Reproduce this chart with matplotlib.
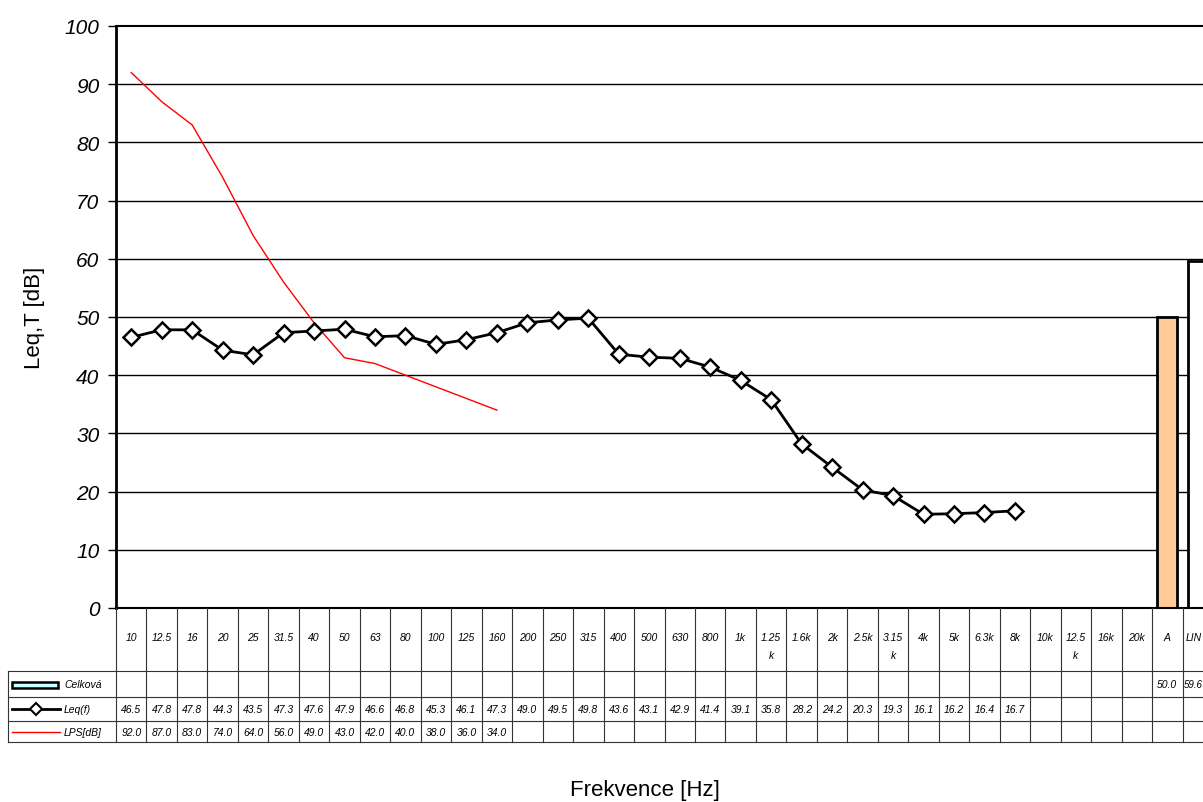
import numpy as np
import matplotlib
matplotlib.use("Agg")
import matplotlib.pyplot as plt
from matplotlib.lines import Line2D
from matplotlib.patches import Rectangle
from matplotlib.transforms import blended_transform_factory

plt.rcParams['font.family'] = ['Liberation Sans', 'DejaVu Sans']

# Frequency bands + overall columns
bands = ["10", "12.5", "16", "20", "25", "31.5", "40", "50", "63", "80", "100", "125",
         "160", "200", "250", "315", "400", "500", "630", "800", "1k", "1.25\nk", "1.6k",
         "2k", "2.5k", "3.15\nk", "4k", "5k", "6.3k", "8k", "10k", "12.5\nk", "16k", "20k",
         "A", "LIN"]

# Leq(f) per band (10 Hz .. 8 kHz)
leq = [46.5, 47.8, 47.8, 44.3, 43.5, 47.3, 47.6, 47.9, 46.6, 46.8, 45.3, 46.1, 47.3,
       49.0, 49.5, 49.8, 43.6, 43.1, 42.9, 41.4, 39.1, 35.8, 28.2, 24.2, 20.3, 19.3,
       16.1, 16.2, 16.4, 16.7]
# LPS [dB] (10 Hz .. 160 Hz)
lps = [92.0, 87.0, 83.0, 74.0, 64.0, 56.0, 49.0, 43.0, 42.0, 40.0, 38.0, 36.0, 34.0]
# overall values (A, LIN)
celkova = [50.0, 59.6]
celkova_colors = ["#FFCC99", "#FFFFFF"]

W, H = 1203, 803
fig = plt.figure(figsize=(W / 100, H / 100), dpi=100)

# plot area in pixels (runs past the right edge, like the original)
L, R, T, B = 116, 1213, 27, 609
ax = fig.add_axes([L / W, 1 - B / H, (R - L) / W, (B - T) / H])

n = len(bands)
ax.set_xlim(0, n)
ax.set_ylim(0, 100)

# gridlines
for g in range(10, 100, 10):
    ax.axhline(g, color="black", lw=1, zorder=1)

x_leq = np.arange(len(leq)) + 0.5
x_lps = np.arange(len(lps)) + 0.5
ax.plot(x_lps, lps, color="red", lw=1, zorder=3)
ax.plot(x_leq, leq, color="black", lw=2, marker="D", markersize=8,
        markerfacecolor="white", markeredgecolor="black", markeredgewidth=1.8, zorder=4)

x_cel = np.arange(n - 2, n) + 0.5
ax.bar(x_cel, celkova, width=0.66, color=celkova_colors, edgecolor="black",
       linewidth=2, zorder=2)

ax.set_yticks(range(0, 101, 10))
ax.set_yticklabels([str(v) for v in range(0, 101, 10)], fontsize=15, style="italic")
ax.tick_params(axis="y", direction="out", length=6, width=1, pad=6)
ax.set_xticks([])
ax.spines["right"].set_visible(False)
ax.spines["left"].set_linewidth(2)
ax.spines["top"].set_linewidth(1.5)
ax.spines["bottom"].set_linewidth(1.5)

ax.set_ylabel("Leq,T [dB]", fontsize=16, labelpad=14)

# data table below the plot
tr = blended_transform_factory(ax.transData, fig.transFigure)
def fy(y):
    return 1 - y / H
def fx(x):
    return x / W

rows = [609, 672, 698, 722, 743]
lc = "#333333"
for i in range(n + 1):
    fig.add_artist(Line2D([i, i], [fy(609), fy(743)], transform=tr, color=lc, lw=0.8))
for y in rows[1:]:
    fig.add_artist(Line2D([fx(8), fx(R)], [fy(y), fy(y)], transform=fig.transFigure,
                          color=lc, lw=0.8))
fig.add_artist(Line2D([fx(8), fx(8)], [fy(672), fy(743)], transform=fig.transFigure,
                      color=lc, lw=0.8))

tk = dict(fontsize=7.5, style="italic", ha="center", va="center", transform=tr)
last = dict(fontsize=7.5, style="italic", ha="left", va="center", transform=tr)
for i, lab in enumerate(bands):
    parts = lab.split("\n")
    if i == n - 1:
        fig.text(i + 0.1, fy(638), parts[0], **last)
        continue
    fig.text(i + 0.5, fy(638), parts[0], **tk)
    if len(parts) > 1:
        fig.text(i + 0.5, fy(656), parts[1], **tk)
for i, v in enumerate(celkova):
    if n - 2 + i == n - 1:
        fig.text(n - 1 + 0.05, fy(685), f"{v:.1f}", fontsize=7, style="italic",
                 ha="left", va="center", transform=tr)
    else:
        fig.text(n - 2 + i + 0.5, fy(685), f"{v:.1f}", **tk)
for i, v in enumerate(leq):
    fig.text(i + 0.5, fy(710), f"{v:.1f}", **tk)
for i, v in enumerate(lps):
    fig.text(i + 0.5, fy(733), f"{v:.1f}", **tk)

# legend keys in the table
fig.add_artist(Rectangle((fx(12), fy(689)), fx(46), 6 / H, transform=fig.transFigure,
                         facecolor="#CCFFFF", edgecolor="black", lw=1.8))
fig.add_artist(Line2D([fx(12), fx(60)], [fy(710), fy(710)], transform=fig.transFigure,
                      color="black", lw=2))
fig.add_artist(Line2D([fx(36)], [fy(710)], transform=fig.transFigure, marker="D",
                      markersize=6, markerfacecolor="white", markeredgecolor="black",
                      markeredgewidth=1.5))
fig.add_artist(Line2D([fx(12), fx(60)], [fy(733), fy(733)], transform=fig.transFigure,
                      color="red", lw=1))
lk = dict(fontsize=7.5, style="italic", ha="left", va="center")
fig.text(fx(64), fy(685), "Celková", **lk)
fig.text(fx(64), fy(710), "Leq(f)", **lk)
fig.text(fx(64), fy(733), "LPS[dB]", **lk)

fig.text(fx(645), fy(791), "Frekvence [Hz]", fontsize=16, ha="center", va="center")

fig.savefig("out.png", dpi=100)
